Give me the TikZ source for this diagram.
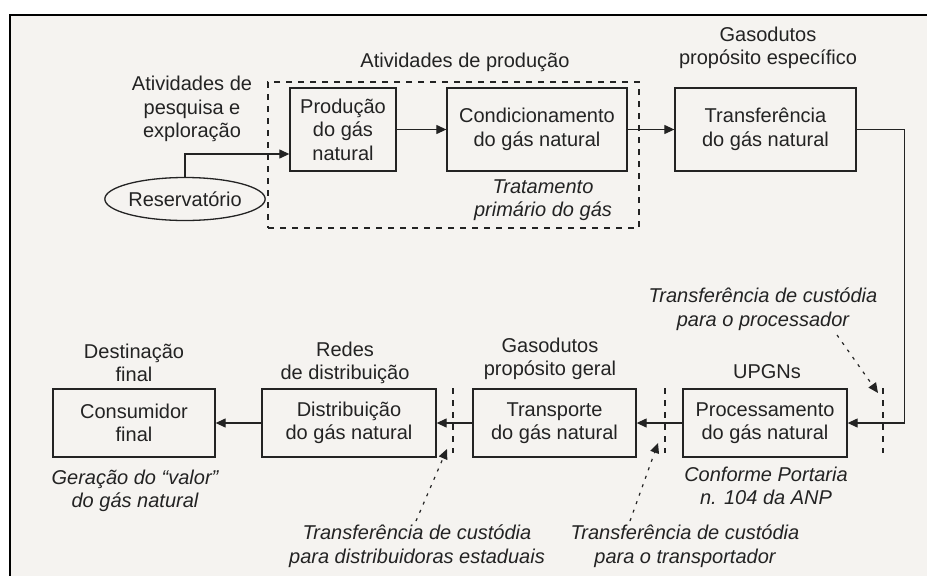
\documentclass[tikz,border=0pt]{standalone}
\usepackage{fontspec}
\setmainfont{Liberation Sans}
\usetikzlibrary{arrows.meta,shapes.geometric}
\definecolor{paper}{RGB}{245,243,240}
\definecolor{ink}{RGB}{35,35,35}
\newcommand\dgfont{\fontsize{20}{23.5}\selectfont}
\begin{document}
\begin{tikzpicture}[x=1pt,y=-1pt,
  box/.style={draw=ink, line width=1.3pt, rectangle, inner sep=0pt, align=center, text=ink, font=\dgfont},
  lbl/.style={align=center, text=ink, font=\dgfont, inner sep=0pt},
  ilbl/.style={align=center, text=ink, font=\dgfont\itshape, inner sep=0pt},
  arr/.style={draw=ink, line width=1.2pt, -{Triangle[length=10pt,width=9pt]}},
  dotarr/.style={draw=ink, line width=1.2pt, dash pattern=on 3pt off 6pt, -{Triangle[length=10pt,width=9pt]}},
  dline/.style={draw=ink, line width=1.1pt, dash pattern=on 6pt off 6pt}]
\useasboundingbox (0,0) rectangle (927,576);
\fill[white] (0,0) rectangle (927,576);
\fill[paper] (10,15) rectangle (927,576);
\draw[black, line width=2pt] (10,576) -- (10,15) -- (927,15);

% group frame
\node[dline, rectangle, minimum width=371pt, minimum height=146pt, inner sep=0pt] (grp) at (453.5,155) {};
\node[lbl] (grplbl) at (465,62) {Atividades de produção};

% top row
\node[box, minimum width=106pt, minimum height=83pt] (prod) at (343,129.5) {Produção\\do gás\\natural};
\node[box, minimum width=180pt, minimum height=83pt] (cond) at (537,129.5) {Condicionamento\\do gás natural};
\node[box, minimum width=181pt, minimum height=83pt] (transf) at (765.5,129.5) {Transferência\\do gás natural};
\node[draw=ink, line width=1.3pt, ellipse, minimum width=158pt, minimum height=43pt, inner sep=0pt, text=ink, font=\dgfont] (res) at (185,199) {Reservatório};

\node[lbl] (pesq) at (192,109) {Atividades de\\pesquisa e\\exploração};
\node[lbl] (gespec) at (768,48) {Gasodutos\\propósito específico};
\node[ilbl] (trat) at (543,200) {Tratamento\\primário do gás};

% bottom row
\node[box, minimum width=164pt, minimum height=68pt] (proc) at (765,423) {Processamento\\do gás natural};
\node[box, minimum width=163pt, minimum height=68pt] (transp) at (554.5,423) {Transporte\\do gás natural};
\node[box, minimum width=174pt, minimum height=68pt] (dist) at (349,423) {Distribuição\\do gás natural};
\node[box, minimum width=162pt, minimum height=68pt] (cons) at (134,423) {Consumidor\\final};

\node[lbl] (upgn) at (767,372) {UPGNs};
\node[lbl] (ggeral) at (550,359) {Gasodutos\\propósito geral};
\node[lbl] (redes) at (345,363) {Redes\\de distribuição};
\node[lbl] (destin) at (134,363) {Destinação\\final};

\node[ilbl] (tproc) at (763,309) {Transferência de custódia\\para o processador};
\node[ilbl] (portaria) at (766,486) {Conforme Portaria\\n. 104 da ANP};
\node[ilbl] (geracao) at (135,491) {Geração do “valor”\\do gás natural};
\node[ilbl] (ttransp) at (685,546) {Transferência de custódia\\para o transportador};
\node[ilbl] (tdist) at (417,546) {Transferência de custódia\\para distribuidoras estaduais};

% connectors
\draw[arr] (res.north) |- ([yshift=-24.5pt]prod.west);
\draw[arr] (prod.east) -- (cond.west);
\draw[arr] (cond.east) -- (transf.west);
\draw[arr] (transf.east) -- ++(48,0) |- (proc.east);
\draw[arr] (proc.west) -- (transp.east);
\draw[arr] (transp.west) -- (dist.east);
\draw[arr] (dist.west) -- (cons.west -| cons.east);

% custody boundaries
\coordinate (b1t) at (883,388); \coordinate (b1b) at (883,453);
\coordinate (b2t) at (665,388); \coordinate (b2b) at (665,453);
\coordinate (b3t) at (453,388); \coordinate (b3b) at (453,453);
\draw[dline] (b1t) -- (b1b);
\draw[dline] (b2t) -- (b2b);
\draw[dline] (b3t) -- (b3b);

\coordinate (d1s) at (837,335); \coordinate (d1e) at (878,393);
\coordinate (d2s) at (630,521); \coordinate (d2e) at (658,443);
\coordinate (d3s) at (416,521); \coordinate (d3e) at (447,449);
\draw[dotarr] (d1s) -- (d1e);
\draw[dotarr] (d2s) -- (d2e);
\draw[dotarr] (d3s) -- (d3e);
\end{tikzpicture}
\end{document}
